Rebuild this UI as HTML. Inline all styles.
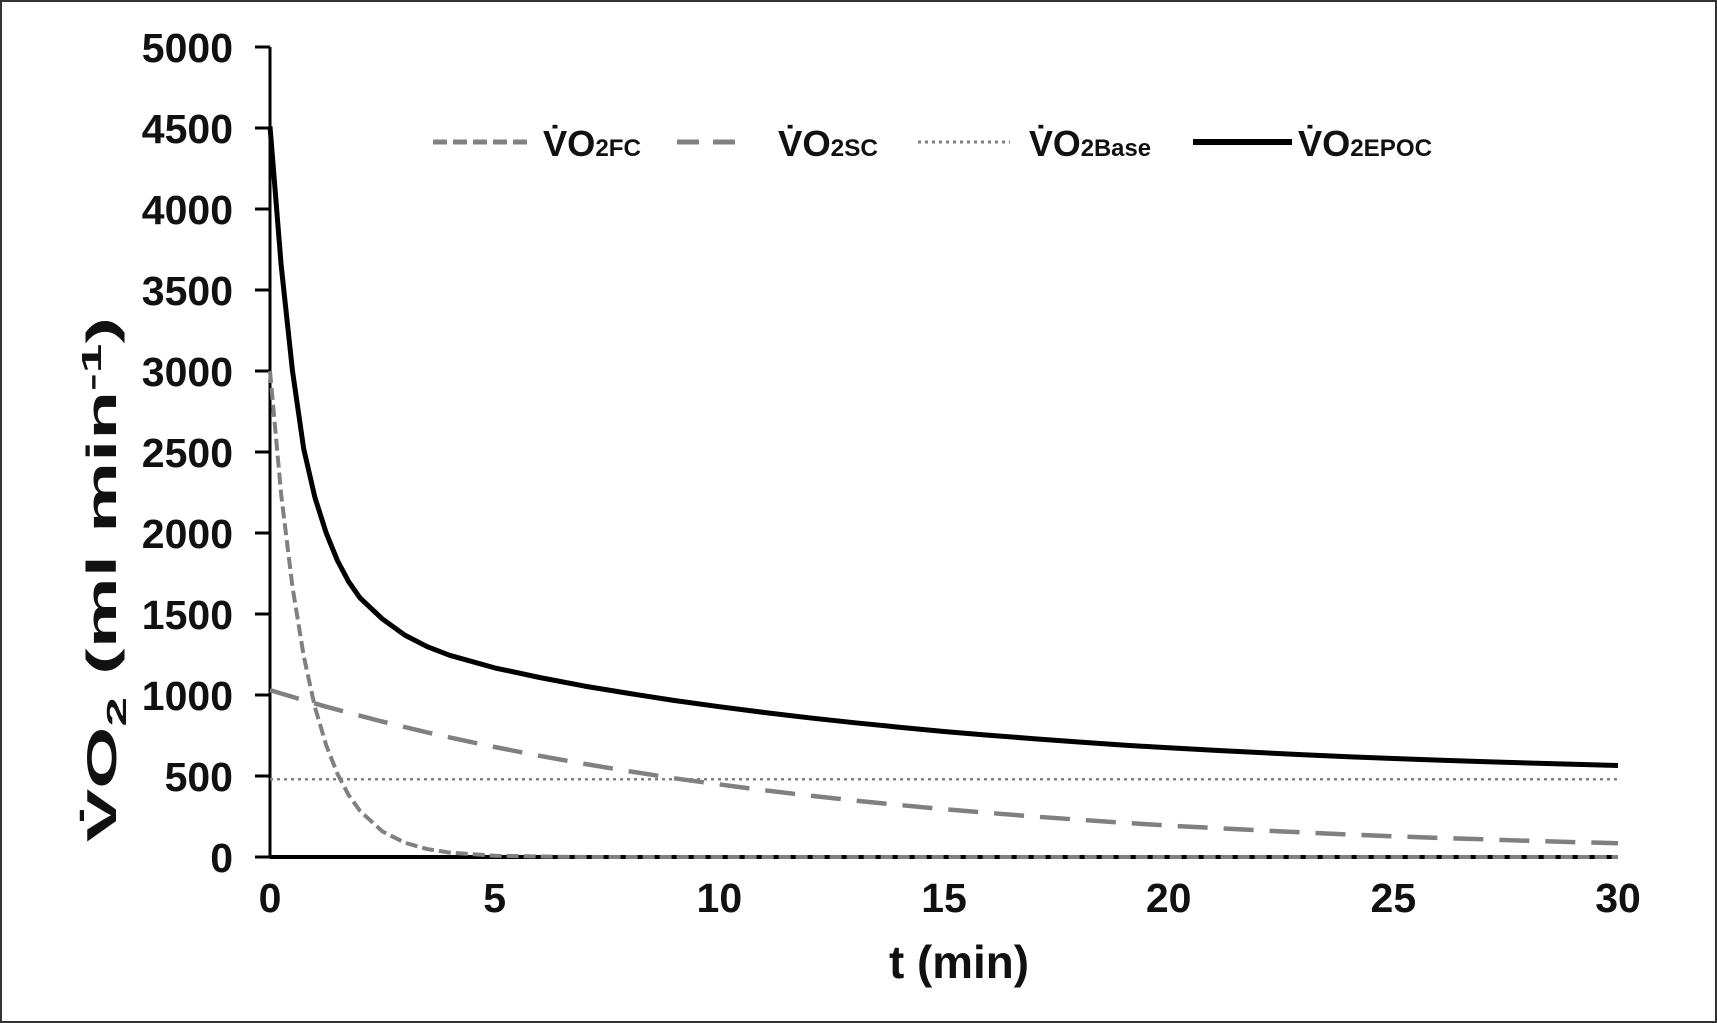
<!DOCTYPE html>
<html><head><meta charset="utf-8"><style>
html,body{margin:0;padding:0;background:#fff;}
svg{display:block;font-family:"Liberation Sans",Arial,sans-serif;}
</style></head><body>
<svg id="chart" width="1717" height="1023" viewBox="0 0 1717 1023" xmlns="http://www.w3.org/2000/svg">
<rect x="1" y="1" width="1715" height="1021" fill="#fff" stroke="#333" stroke-width="2"/>
<g id="axes"></g>
<g id="series"></g>
<g id="legend" font-weight="bold" fill="#111">
  <line x1="433" y1="142" x2="530" y2="142" stroke="#808080" stroke-width="5" stroke-dasharray="14,6"/>
  <text x="543" y="156" font-size="36" textLength="98" lengthAdjust="spacingAndGlyphs">V̇O<tspan font-size="24">2FC</tspan></text>
  <line x1="677" y1="142" x2="745" y2="142" stroke="#808080" stroke-width="5" stroke-dasharray="22,14"/>
  <text x="778" y="156" font-size="36" textLength="100" lengthAdjust="spacingAndGlyphs">V̇O<tspan font-size="24">2SC</tspan></text>
  <line x1="918" y1="142" x2="1010" y2="142" stroke="#808080" stroke-width="3" stroke-dasharray="3,4"/>
  <text x="1029" y="156" font-size="36" textLength="122" lengthAdjust="spacingAndGlyphs">V̇O<tspan font-size="24">2Base</tspan></text>
  <line x1="1193" y1="142" x2="1292" y2="142" stroke="#000" stroke-width="6"/>
  <text x="1298" y="156" font-size="36" textLength="134" lengthAdjust="spacingAndGlyphs">V̇O<tspan font-size="24">2EPOC</tspan></text>
</g>
</svg>
<script>
const tValues=[0,0.25,0.5,0.75,1,1.25,1.5,1.75,2,2.5,3,3.5,4,5,6,7,8,9,10,11,12,13,14,15,16,17,18,19,20,21,22,23,24,25,26,27,28,29,30];
const fcValues=[3000,2235,1666,1241,925,690,514,383,285,158,88,49,27,8,3,0,0,0,0,0,0,0,0,0,0,0,0,0,0,0,0,0,0,0,0,0,0,0,0];
const scValues=[1030,1009,988,968,948,928,909,890,872,836,802,769,738,679,625,575,529,486,448,412,379,349,321,295,272,250,230,211,194,179,165,151,139,128,118,109,100,92,85];
const baseValues=[480,480,480,480,480,480,480,480,480,480,480,480,480,480,480,480,480,480,480,480,480,480,480,480,480,480,480,480,480,480,480,480,480,480,480,480,480,480,480];
const epocValues=[4510,3650,3000,2520,2220,2000,1830,1700,1600,1470,1370,1298,1245,1167,1108,1055,1009,966,928,892,859,829,801,775,752,730,710,691,674,659,645,631,619,608,598,589,580,572,565];
const yTicks=[0,500,1000,1500,2000,2500,3000,3500,4000,4500,5000];
const xTicks=[0,5,10,15,20,25,30];

const X0=270,X1=1618,Y0=857,Y1=47;
const xs=t=>X0+(t/30)*(X1-X0);
const ys=v=>Y0-(v/5000)*(Y0-Y1);
const NS='http://www.w3.org/2000/svg';
const axes=document.getElementById('axes');
const series=document.getElementById('series');
function mk(tag,attrs,parent){const e=document.createElementNS(NS,tag);for(const k in attrs)e.setAttribute(k,attrs[k]);parent.appendChild(e);return e;}

yTicks.forEach(v=>{
  const tk=mk('line',{x1:X0-15,x2:X0,y1:ys(v),y2:ys(v),stroke:'#000','stroke-width':3},axes);
  
  
  const tx=mk('text',{x:X0-37,y:ys(v)+15,'text-anchor':'end','font-size':41,'font-weight':'bold',fill:'#111'},axes);
  tx.textContent=v;
  
  
});
xTicks.forEach(v=>{
  const tx=mk('text',{x:xs(v),y:Y0+55,'text-anchor':'middle','font-size':41,'font-weight':'bold',fill:'#111'},axes);
  tx.textContent=v;
  
  
});
const ya=mk('line',{x1:X0,x2:X0,y1:Y1,y2:Y0,stroke:'#000','stroke-width':3},axes);


const xa=mk('line',{x1:X0,x2:X1,y1:Y0,y2:Y0,stroke:'#000','stroke-width':4},axes);


const xt=mk('text',{x:889,y:978,'font-size':46,'font-weight':'bold',fill:'#111',textLength:140,lengthAdjust:'spacingAndGlyphs'},axes);
xt.textContent='t (min)';


const yt=mk('text',{x:-262,y:0,'font-size':42,'font-weight':'bold',fill:'#111',transform:'translate(116,580) rotate(-90)',textLength:525,lengthAdjust:'spacingAndGlyphs'},axes);
yt.innerHTML='V̇O<tspan font-size="28" dy="10">2</tspan><tspan dy="-10"> (ml min</tspan><tspan font-size="28" dy="-15">-1</tspan><tspan dy="15">)</tspan>';



function path(vals){return vals.map((v,i)=>(i?'L':'M')+xs(tValues[i]).toFixed(1)+','+ys(v).toFixed(1)).join(' ');}
const pb=mk('path',{d:path(baseValues),fill:'none',stroke:'#808080','stroke-width':2.5,'stroke-dasharray':'3,4'},series);


const psc=mk('path',{d:path(scValues),fill:'none',stroke:'#808080','stroke-width':4.5,'stroke-dasharray':'30,16'},series);


const pfc=mk('path',{d:path(fcValues),fill:'none',stroke:'#808080','stroke-width':4,'stroke-dasharray':'12,5'},series);


const pe=mk('path',{d:path(epocValues),fill:'none',stroke:'#000','stroke-width':5,'stroke-linejoin':'round'},series);


</script>
</body></html>
